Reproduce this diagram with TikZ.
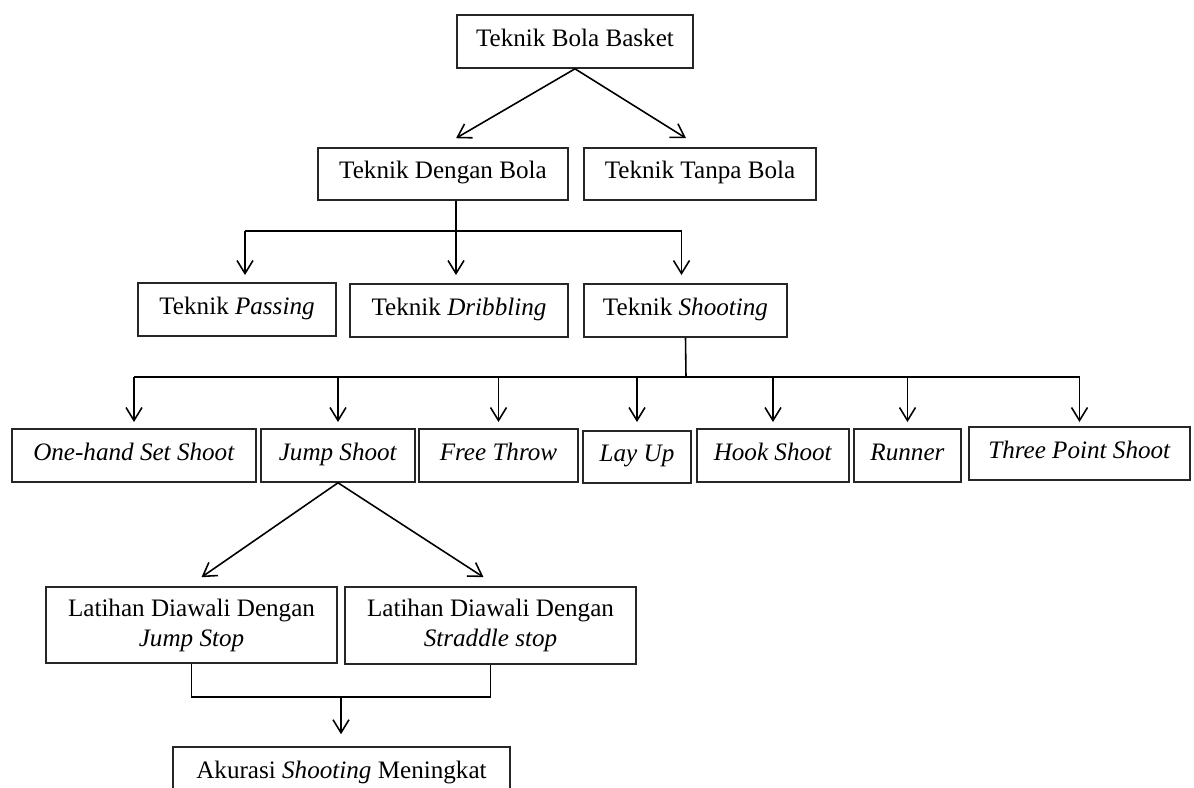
\documentclass[tikz,border=0pt]{standalone}
\usepackage{fontspec}
\setmainfont{Liberation Serif}
\usetikzlibrary{calc,arrows.meta}

\begin{document}
\begin{tikzpicture}[x=0.02cm,y=-0.02cm,line width=0.9pt,
	font=\fontsize{14.3}{17.1}\selectfont,
	bx/.style 2 args={draw=black!85,inner sep=0pt,align=center,text height=0.8em,text depth=0.25em,minimum width=#1*0.02cm,minimum height=#2*0.02cm},
	twoline/.style={text height=,text depth=},
	arr/.style={-{Straight Barb[length=0.26cm,width=0.32cm]}}]
		\clip (0,0) rectangle (1194,788);
		\path
		(575,41.5) node[bx={236}{53}] (basket) {Teknik Bola Basket}
		(443,174) node[bx={250}{52}] (dengan) {Teknik Dengan Bola}
		(700,174) node[bx={232}{52}] (tanpa) {Teknik Tanpa Bola}
		(237,309.5) node[bx={198}{53}] (passing) {Teknik \textit{Passing}}
		(459,310.5) node[bx={218}{53}] (dribbling) {Teknik \textit{Dribbling}}
		(685.5,310.5) node[bx={203}{53}] (shooting) {Teknik \textit{Shooting}}
		(134,455.5) node[bx={244}{53}] (onehand) {\textit{One-hand Set Shoot}}
		(338,455.5) node[bx={154}{53}] (jump) {\textit{Jump Shoot}}
		(498.5,455.5) node[bx={159}{53}] (free) {\textit{Free Throw}}
		(637,457) node[bx={108}{52}] (layup) {\textit{Lay Up}}
		(773,455.5) node[bx={152}{53}] (hook) {\textit{Hook Shoot}}
		(907.5,455.5) node[bx={107}{53}] (runner) {\textit{Runner}}
		(1079.5,453.5) node[bx={221}{53}] (three) {\textit{Three Point Shoot}}
		(191.5,625) node[bx={291}{76},twoline] (lat1) {Latihan Diawali Dengan\\\textit{Jump Stop}}
		(490.5,625.5) node[bx={291}{77},twoline] (lat2) {Latihan Diawali Dengan\\\textit{Straddle stop}}
		(341.5,773.5) node[bx={337}{53}] (akurasi) {Akurasi \textit{Shooting} Meningkat}
		(456,231) coordinate (b1)
		(0,275) coordinate (t1)
		(686,377) coordinate (b2)
		(0,422) coordinate (t2)
		(341,697) coordinate (b3)
		;
		\draw[arr] (basket.south) -- ($(dengan.north)+(13,-9)$);
		\draw[arr] (basket.south) -- ($(tanpa.north)+(-14,-9)$);
		\draw (b1 |- dengan.south) -- (b1);
		\draw ($(b1 -| passing.north)+(8,0)$) -- ($(b1 -| shooting.north)+(-4,0)$);
		\foreach \n/\dx in {passing/8,dribbling/-3,shooting/-4}
		\draw[arr] ($(b1 -| \n.north)+(\dx,0)$) -- ($(t1 -| \n.north)+(\dx,0)$);
		\draw (shooting.south) -- (b2);
		\draw (b2 -| onehand.north) -- (b2 -| three.north);
		\foreach \n in {onehand,jump,free,layup,hook,runner,three}
		\draw[arr] (b2 -| \n.north) -- (t2 -| \n.north);
		\draw[arr] (jump.south) -- ($(lat1.north)+(10,-9)$);
		\draw[arr] (jump.south) -- ($(lat2.north)+(-7,-9)$);
		\draw (lat1.south) |- (b3) -| (lat2.south);
		\draw[arr,shorten >=0.24cm] (b3) -- (b3 |- akurasi.north);
	\end{tikzpicture}
\end{document}
